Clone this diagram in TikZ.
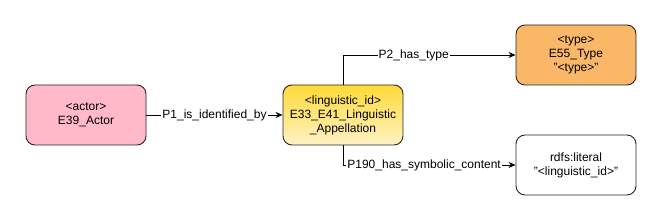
\documentclass[tikz,border=0pt]{standalone}
\usepackage{fontspec}
\setmainfont{Liberation Sans}
\usetikzlibrary{arrows.meta}
\definecolor{pinkfill}{HTML}{FFB9C7}
\definecolor{ytop}{HTML}{FFDA38}
\definecolor{ybot}{HTML}{FFF2C6}
\definecolor{orangefill}{HTML}{FAB767}
\begin{document}
\begin{tikzpicture}[x=1pt,y=-1pt,
  font=\fontsize{12}{14}\selectfont,
  entity/.style={draw=black!85, line width=0.9pt, rounded corners=9pt, minimum width=120pt, minimum height=60pt, align=center, inner sep=0pt, text width=118pt},
  rel/.style={draw=black, line width=0.9pt, -{Stealth[length=7pt,width=6pt]}},
  lbl/.style={fill=white, inner sep=1pt, font=\fontsize{12}{14}\selectfont}
]
\useasboundingbox (0,0) rectangle (661,221);
\node[entity, fill=pinkfill] (actor) at (86,115) {<actor>\\E39\_Actor};
\node[entity, top color=ytop, bottom color=ybot] (ling) at (343,115) {<linguistic\_id>\\E33\_E41\_Linguistic\\\_Appellation};
\node[entity, fill=orangefill] (type) at (576,55) {<type>\\E55\_Type\\"<type>"};
\node[entity, fill=white] (lit) at (576,165) {rdfs:literal\\"<linguistic\_id>"};
\draw[rel] (actor.east) -- node[lbl] {P1\_is\_identified\_by} (ling.west);
\draw[rel] (ling.north) |- node[lbl, pos=0.705] {P2\_has\_type} (type.west);
\draw[rel] (ling.south) |- node[lbl, pos=0.735] {P190\_has\_symbolic\_content} (lit.west);
\end{tikzpicture}
\end{document}
